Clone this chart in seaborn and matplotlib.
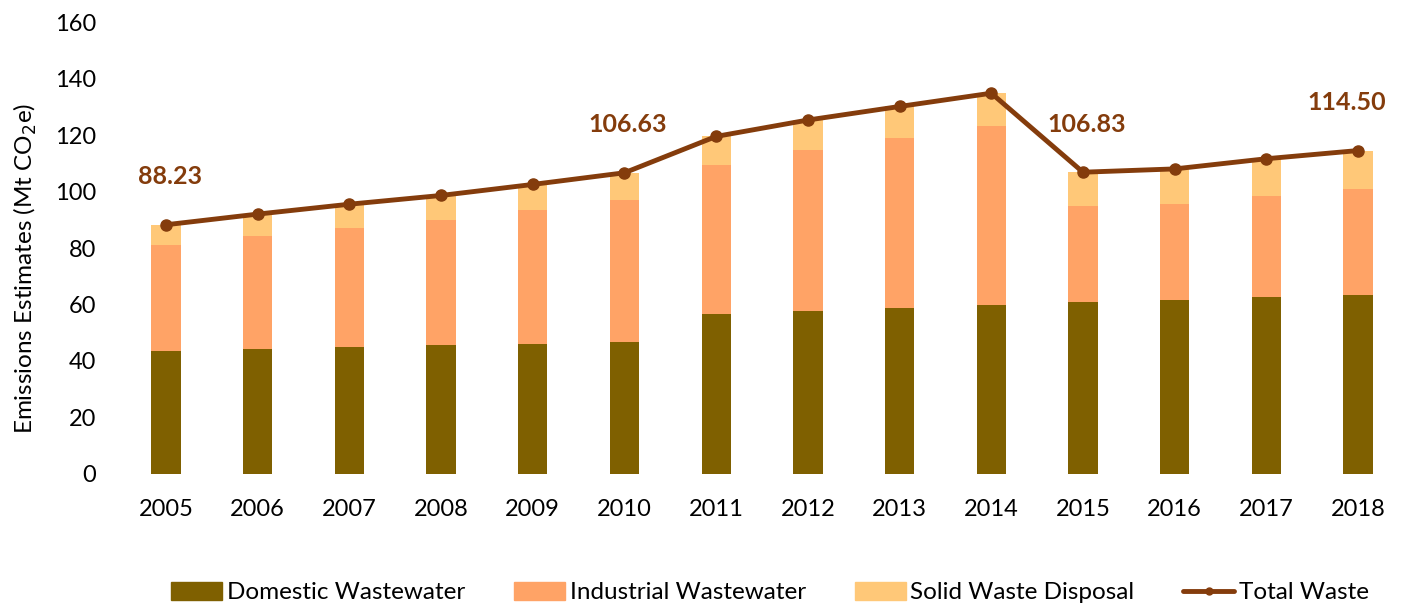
import matplotlib
matplotlib.use("Agg")
import matplotlib.pyplot as plt
import seaborn as sns
import numpy as np
import pandas as pd

sns.set_theme(style="white")
plt.rcParams['font.family'] = ['Lato', 'DejaVu Sans']
plt.rcParams['text.color'] = 'black'
plt.rcParams['axes.labelcolor'] = 'black'
plt.rcParams['xtick.color'] = 'black'
plt.rcParams['ytick.color'] = 'black'

# values (Mt CO2e)
years = ["2005", "2006", "2007", "2008", "2009", "2010", "2011",
         "2012", "2013", "2014", "2015", "2016", "2017", "2018"]
domestic = [43.5, 44.2, 45.0, 45.7, 46.1, 46.7, 56.6,
            57.7, 58.8, 59.8, 60.9, 61.6, 62.7, 63.4]
industrial = [37.6, 40.0, 42.1, 44.2, 47.4, 50.3, 52.8,
              57.0, 60.1, 63.4, 34.0, 34.0, 35.7, 37.5]
total = [88.23, 92.0, 95.5, 98.6, 102.5, 106.63, 119.5,
         125.3, 130.1, 134.8, 106.83, 108.0, 111.6, 114.50]
solid = [t - d - i for t, d, i in zip(total, domestic, industrial)]
labelled = ["2005", "2010", "2015", "2018"]

df = pd.DataFrame({"year": years, "domestic": domestic,
                   "industrial": industrial, "solid": solid, "total": total})

c_dom = "#7F6000"
c_ind = "#FFA366"
c_sol = "#FFC878"
c_tot = "#843C0C"

fig = plt.figure(figsize=(14.13, 6.08), dpi=100)
ax = fig.add_axes([0.085, 0.2204, 0.9086, 0.7434])

sns.barplot(data=df, x="year", y="domestic", color=c_dom, width=0.32,
            linewidth=0, saturation=1, ax=ax)
sns.barplot(data=df, x="year", y="industrial", bottom=df["domestic"],
            color=c_ind, width=0.32, linewidth=0, saturation=1, ax=ax)
sns.barplot(data=df, x="year", y="solid",
            bottom=df["domestic"] + df["industrial"],
            color=c_sol, width=0.32, linewidth=0, saturation=1, ax=ax)

pos = np.arange(len(years))
ax.plot(pos, df["total"], color=c_tot, lw=3.5, marker="o", ms=8, zorder=5)

for i, (y, t) in enumerate(zip(years, total)):
    if y in labelled:
        dx = -0.12 if y == "2018" else 0.04
        ax.text(i + dx, t + 17, f"{t:.2f}", ha="center", va="center",
                fontsize=18, fontweight="bold", color=c_tot)

ax.set_xlim(-0.5, len(years) - 0.5)
ax.set_ylim(0, 160)
ax.set_yticks(range(0, 161, 20))
ax.tick_params(axis="both", labelsize=17, length=0)
ax.tick_params(axis="y", pad=17)
ax.tick_params(axis="x", pad=18)
ax.set_xlabel("")
ax.set_ylabel("Emissions Estimates (Mt CO$_2$e)", fontsize=17.5)
ax.yaxis.set_label_coords(-0.063, 0.455)
sns.despine(ax=ax, left=True, bottom=True)

handles = [
    plt.Rectangle((0, 0), 1, 1, color=c_dom),
    plt.Rectangle((0, 0), 1, 1, color=c_ind),
    plt.Rectangle((0, 0), 1, 1, color=c_sol),
    plt.Line2D([], [], color=c_tot, lw=3.5, marker="o", ms=5),
]
names = ["Domestic Wastewater", "Industrial Wastewater",
         "Solid Waste Disposal", "Total Waste"]
fig.legend(handles, names, loc="center", bbox_to_anchor=(0.545, 0.025),
           ncol=4, frameon=False, fontsize=17.5, handlelength=2.1,
           handleheight=0.75, columnspacing=2.0, handletextpad=0.2)

fig.savefig("out.png", dpi=100)
